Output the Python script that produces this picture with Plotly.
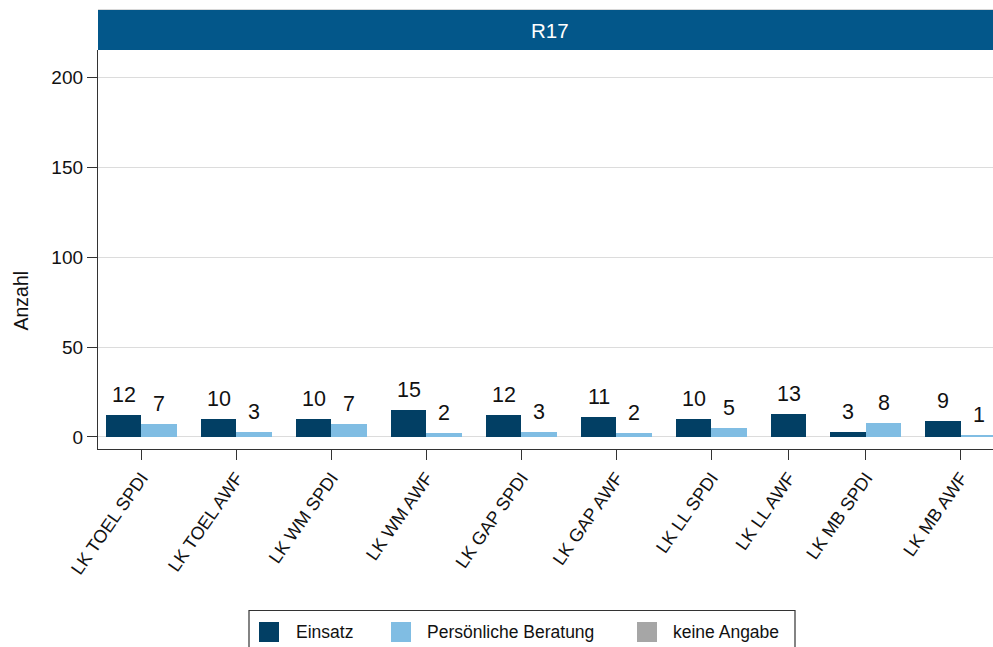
import plotly.graph_objects as go

# ---------------- data ----------------
categories = ["LK TOEL SPDI", "LK TOEL AWF", "LK WM SPDI", "LK WM AWF", "LK GAP SPDI",
              "LK GAP AWF", "LK LL SPDI", "LK LL AWF", "LK MB SPDI", "LK MB AWF"]
einsatz = [12, 10, 10, 15, 12, 11, 10, 13, 3, 9]
beratung = [7, 3, 7, 2, 3, 2, 5, None, 8, 1]
keine_angabe = [None, None, None, None, None, None, None, None, None, None]
series_names = ["Einsatz", "Persönliche Beratung", "keine Angabe"]
y_ticks = [0, 50, 100, 150, 200]
panel_title = "R17"
y_title = "Anzahl"

# ---------------- style ----------------
colors = ["#023f64", "#80bde3", "#a6a6a6"]
header_color = "#03578a"
FONT = "Liberation Sans, Arial, sans-serif"
W, H = 993, 647
ML, MR, MT, MB = 98, 0, 50, 198
PW, PH = W - ML - MR, H - MT - MB


def px_x(px):
    return (px - ML) / PW


def px_y(py):
    return (H - MB - py) / PH


# slot layout: bars of width 1 side by side, gap between categories
GAP = 0.676
series_vals = [einsatz, beratung, keine_angabe]
xs = [[None] * len(categories) for _ in series_vals]
centers = []
pos = 0.0
for i in range(len(categories)):
    slots = []
    for s, vals in enumerate(series_vals):
        if vals[i] is not None:
            xs[s][i] = pos + 0.5
            slots.append(pos + 0.5)
            pos += 1
    centers.append(sum(slots) / len(slots) if slots else pos)
    pos += GAP

x_left = -0.225
x_right = x_left + PW / 35.5

fig = go.Figure()
annotations = []
for s, vals in enumerate(series_vals):
    bx = [xs[s][i] for i in range(len(vals)) if vals[i] is not None]
    by = [v for v in vals if v is not None]
    fig.add_trace(go.Bar(x=bx, y=by, width=1.0, name=series_names[s],
                         marker=dict(color=colors[s], line=dict(width=0)),
                         showlegend=False, hoverinfo="x+y"))
    for xv, yv in zip(bx, by):
        annotations.append(dict(x=xv, y=yv, xref="x", yref="y", text=str(yv),
                                showarrow=False, yanchor="bottom", xanchor="center",
                                yshift=6, font=dict(size=21.5, color="#111", family=FONT)))

# header
shapes = [
    dict(type="rect", xref="paper", yref="paper", x0=0, x1=1, y0=px_y(50), y1=px_y(10),
         fillcolor=header_color, line=dict(width=0), layer="above"),
    dict(type="line", xref="paper", yref="paper", x0=0, x1=1, y0=px_y(9.5), y1=px_y(9.5),
         line=dict(color="#d8d8d8", width=1)),
]
annotations.append(dict(x=px_x(550), y=px_y(30), xref="paper", yref="paper", text=panel_title,
                        showarrow=False, xanchor="center", yanchor="middle",
                        font=dict(size=20.5, color="white", family=FONT)))

# y title
annotations.append(dict(x=px_x(20.5), y=px_y(301), xref="paper", yref="paper", text=y_title,
                        showarrow=False, textangle=-90, xanchor="center", yanchor="middle",
                        font=dict(size=19.5, color="#111", family=FONT)))

# legend (manual)
shapes.append(dict(type="rect", xref="paper", yref="paper", x0=px_x(249), x1=px_x(795),
                   y0=px_y(670), y1=px_y(610.5), fillcolor="white",
                   line=dict(color="#333", width=1.2)))
sw_x = [259, 391, 637]
tx_x = [294, 425, 671]
for s in range(3):
    shapes.append(dict(type="rect", xref="paper", yref="paper",
                       x0=px_x(sw_x[s]), x1=px_x(sw_x[s] + 20),
                       y0=px_y(642), y1=px_y(622), fillcolor=colors[s], line=dict(width=0)))
    annotations.append(dict(x=px_x(tx_x[s]), y=px_y(632), xref="paper", yref="paper",
                            text=series_names[s], showarrow=False, xanchor="left",
                            yanchor="middle", font=dict(size=17.5, color="#111", family=FONT)))

fig.update_layout(
    width=W, height=H,
    margin=dict(l=ML, r=MR, t=MT, b=MB),
    paper_bgcolor="white", plot_bgcolor="white",
    barmode="overlay", bargap=0,
    font=dict(family=FONT, color="#111"),
    shapes=shapes, annotations=annotations,
    showlegend=False,
    xaxis=dict(range=[x_left, x_right], tickmode="array", tickvals=centers, ticktext=categories,
               tickangle=-55, ticks="outside", ticklen=10, tickwidth=1.3, tickcolor="#333",
               showline=True, linecolor="#333", linewidth=1.3, showgrid=False, zeroline=False,
               tickfont=dict(size=18, color="#111", family=FONT)),
    yaxis=dict(range=[-6.67, 215], tickvals=y_ticks, ticks="outside", ticklen=10,
               tickwidth=1.3, tickcolor="#333", showline=True, linecolor="#333", linewidth=1.3,
               showgrid=True, gridcolor="#dcdcdc", gridwidth=1, zeroline=False,
               tickfont=dict(size=19, color="#111", family=FONT)),
)

fig.write_html("out.html", config={"displayModeBar": False},
               post_script="document.body.style.margin='0';document.body.style.overflow='hidden';")
